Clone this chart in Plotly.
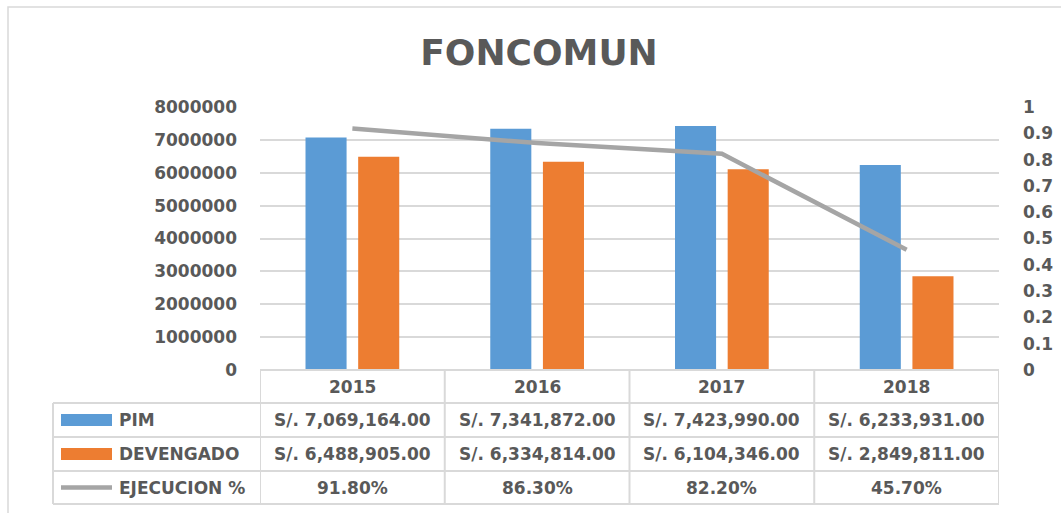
import plotly.graph_objects as go

# ---- data ----
years = ["2015", "2016", "2017", "2018"]
pim = [7069164.00, 7341872.00, 7423990.00, 6233931.00]
devengado = [6488905.00, 6334814.00, 6104346.00, 2849811.00]
ejecucion = [0.918, 0.863, 0.822, 0.457]
series_names = ["PIM", "DEVENGADO", "EJECUCION %"]
title_text = "FONCOMUN"

# ---- styling ----
W, H = 1061, 513
BLUE = "#5B9BD5"
ORANGE = "#ED7D31"
GRAY = "#A5A5A5"
TXT = "#595959"
GRID = "#D9D9D9"
FONT = "DejaVu Sans"

def xp(px):
    return px / W

def yp(py):
    return 1 - py / H

PLOT_L, PLOT_R, PLOT_T, PLOT_B = 260, 999, 107, 370
ROW_Y = [370, 403, 437, 471, 504]
LEG_L = 53

fig = go.Figure()
fig.add_trace(go.Bar(x=years, y=pim, name=series_names[0], marker_color=BLUE,
                     marker_line_width=0))
fig.add_trace(go.Bar(x=years, y=devengado, name=series_names[1], marker_color=ORANGE,
                     marker_line_width=0))
fig.add_trace(go.Scatter(x=years, y=ejecucion, name=series_names[2], yaxis="y2",
                         mode="lines", line=dict(color=GRAY, width=4.5)))

shapes = []
annotations = []

# outer chart border
shapes.append(dict(type="rect", xref="paper", yref="paper",
                   x0=xp(8), x1=xp(1070), y0=yp(530), y1=yp(7),
                   line=dict(color=GRID, width=1.5), fillcolor="rgba(0,0,0,0)", layer="below"))

line_style = dict(color=GRID, width=2)
# header top line + rows
shapes.append(dict(type="line", xref="paper", yref="paper", x0=xp(PLOT_L), x1=xp(PLOT_R),
                   y0=yp(ROW_Y[0]), y1=yp(ROW_Y[0]), line=line_style))
for ry in ROW_Y[1:]:
    shapes.append(dict(type="line", xref="paper", yref="paper", x0=xp(LEG_L), x1=xp(PLOT_R),
                       y0=yp(ry), y1=yp(ry), line=line_style))
# vertical lines of value columns (category boundaries)
for i in range(len(years) + 1):
    shapes.append(dict(type="line", xref="x", yref="paper", x0=i - 0.5, x1=i - 0.5,
                       y0=yp(ROW_Y[0]), y1=yp(ROW_Y[-1]), line=line_style))
# legend column left border
shapes.append(dict(type="line", xref="paper", yref="paper", x0=xp(LEG_L), x1=xp(LEG_L),
                   y0=yp(ROW_Y[1]), y1=yp(ROW_Y[-1]), line=line_style))

# legend keys
key_x0, key_x1 = 61, 112
for r, col in ((1, BLUE), (2, ORANGE)):
    cy = (ROW_Y[r] + ROW_Y[r + 1]) / 2
    shapes.append(dict(type="rect", xref="paper", yref="paper", x0=xp(key_x0), x1=xp(key_x1),
                       y0=yp(cy + 6), y1=yp(cy - 6), line=dict(width=0), fillcolor=col))
cy = (ROW_Y[3] + ROW_Y[4]) / 2
shapes.append(dict(type="line", xref="paper", yref="paper", x0=xp(key_x0), x1=xp(key_x1),
                   y0=yp(cy), y1=yp(cy), line=dict(color=GRAY, width=4.5)))

tfont = dict(family=FONT, size=17, color=TXT, weight="bold")
# legend labels
for r, name in enumerate(series_names, start=1):
    cy = (ROW_Y[r] + ROW_Y[r + 1]) / 2
    annotations.append(dict(text=name, xref="paper", yref="paper", x=xp(117), y=yp(cy),
                            xanchor="left", yanchor="middle", showarrow=False, font=tfont))

# header years and cell values
rows_text = [
    years,
    ["S/. {:,.2f}".format(v) for v in pim],
    ["S/. {:,.2f}".format(v) for v in devengado],
    ["{:.2f}%".format(v * 100) for v in ejecucion],
]
for r, texts in enumerate(rows_text):
    cy = (ROW_Y[r] + ROW_Y[r + 1]) / 2
    for i, t in enumerate(texts):
        annotations.append(dict(text=t, xref="x", yref="paper", x=i, y=yp(cy),
                                xanchor="center", yanchor="middle", showarrow=False, font=tfont))

fig.update_layout(
    width=W, height=H, autosize=False,
    margin=dict(l=0, r=0, t=0, b=0, autoexpand=False),
    paper_bgcolor="white", plot_bgcolor="white",
    showlegend=False,
    barmode="group", bargap=0.43, bargroupgap=0.22,
    title=dict(text=title_text, x=xp(539), xanchor="center", y=yp(52), yanchor="middle",
               font=dict(family=FONT, size=36, color=TXT, weight="bold")),
    xaxis=dict(domain=[xp(PLOT_L), xp(PLOT_R)], type="category", range=[-0.5, 3.5],
               showticklabels=False, showgrid=False, zeroline=False, showline=False, ticks=""),
    yaxis=dict(domain=[yp(PLOT_B), yp(PLOT_T)], range=[0, 8000000], dtick=1000000,
               tickformat="d", showgrid=True, gridcolor=GRID, gridwidth=1.5,
               zeroline=False, showline=False, ticks="", ticklabelstandoff=22,
               tickfont=tfont, automargin=False),
    yaxis2=dict(overlaying="y", side="right", range=[0, 1], dtick=0.1,
                showgrid=False, zeroline=False, showline=False, ticks="",
                ticklabelstandoff=23, tickfont=tfont, automargin=False),
    shapes=shapes, annotations=annotations,
)

fig.write_html("out.html", config={"displayModeBar": False},
               post_script="document.body.style.margin='0';document.body.style.overflow='hidden';")
